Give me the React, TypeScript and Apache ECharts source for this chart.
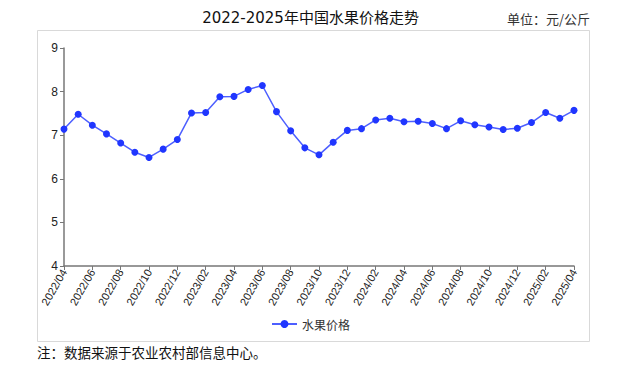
import React, { useEffect, useRef } from "react";
import * as echarts from "echarts";

const months: string[] = [
  "2022/04","2022/05","2022/06","2022/07","2022/08","2022/09","2022/10","2022/11","2022/12",
  "2023/01","2023/02","2023/03","2023/04","2023/05","2023/06","2023/07","2023/08","2023/09","2023/10","2023/11","2023/12",
  "2024/01","2024/02","2024/03","2024/04","2024/05","2024/06","2024/07","2024/08","2024/09","2024/10","2024/11","2024/12",
  "2025/01","2025/02","2025/03","2025/04",
];
const fruitPrice: number[] = [
  7.14, 7.48, 7.23, 7.03, 6.82, 6.61, 6.49, 6.68, 6.90,
  7.51, 7.52, 7.88, 7.89, 8.05, 8.14, 7.54, 7.10, 6.71, 6.55, 6.84, 7.11,
  7.15, 7.35, 7.39, 7.31, 7.32, 7.27, 7.15, 7.33, 7.24, 7.19, 7.13, 7.16,
  7.29, 7.52, 7.39, 7.57,
];
const seriesName = "水果价格";
const titleText = "2022-2025年中国水果价格走势";
const unitText = "单位：元/公斤";
const noteText = "注：数据来源于农业农村部信息中心。";

export default function App() {
  const ref = useRef<HTMLDivElement>(null);
  useEffect(() => {
    if (!ref.current) return;
    const chart = echarts.init(ref.current, undefined, { renderer: "svg" });
    chart.setOption({
      animation: false,
      backgroundColor: "#fff",
      title: {
        text: titleText,
        left: "center",
        top: 5,
        textStyle: { fontSize: 15, fontWeight: "normal", color: "#111", fontFamily: "'DejaVu Sans', 'Noto Sans CJK SC', sans-serif" },
      },
      graphic: [
        {
          type: "rect",
          shape: { x: 37.5, y: 30.5, width: 552, height: 311 },
          style: { fill: "none", stroke: "#d9d9d9", lineWidth: 1 },
          silent: true,
          z: -1,
        },
        {
          type: "text",
          right: 31,
          top: 12,
          style: { text: unitText, fontSize: 13, fill: "#333", fontFamily: "'Noto Sans CJK SC', sans-serif" },
        },
        {
          type: "text",
          left: 37,
          top: 345,
          style: { text: noteText, fontSize: 13.5, fill: "#111", fontFamily: "'Noto Sans CJK SC', sans-serif" },
        },
      ],
      legend: {
        data: [seriesName],
        bottom: 32,
        left: "center",
        itemWidth: 25,
        itemHeight: 10,
        textStyle: { fontSize: 12, color: "#333", fontFamily: "'Noto Sans CJK SC', sans-serif" },
      },
      grid: { left: 64, right: 47, top: 48, bottom: 101 },
      xAxis: {
        type: "category",
        data: months,
        boundaryGap: false,
        axisLine: { lineStyle: { color: "#777", width: 1.5 } },
        axisTick: { interval: 1, length: 4, lineStyle: { color: "#777" } },
        axisLabel: { interval: 1, rotate: 60, fontSize: 11, color: "#222", margin: 4 },
      },
      yAxis: {
        type: "value",
        min: 4,
        max: 9,
        interval: 1,
        axisLine: { show: true, lineStyle: { color: "#777", width: 1.5 } },
        axisTick: { show: true, length: 4, lineStyle: { color: "#777" } },
        axisLabel: { fontSize: 12, color: "#222", margin: 6 },
        splitLine: { show: false },
      },
      series: [
        {
          name: seriesName,
          type: "line",
          data: fruitPrice,
          symbol: "circle",
          symbolSize: 7,
          lineStyle: { color: "#4d5fff", width: 1.5 },
          itemStyle: { color: "#2036ff" },
        },
      ],
    });
    return () => chart.dispose();
  }, []);
  return (
    <div
      ref={ref}
      style={{ position: "absolute", left: 0, top: 0, width: 621, height: 367 }}
    />
  );
}
